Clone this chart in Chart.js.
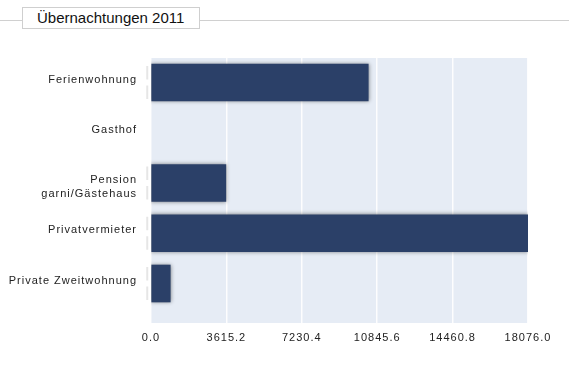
<!DOCTYPE html>
<html lang="de">
<head>
  <meta charset="UTF-8">
  <title>Übernachtungen 2011</title>
  <script src="https://cdn.jsdelivr.net/npm/chart.js"></script>
  <style>
    body { margin: 0; background: #fff; font-family: "Liberation Sans", Arial, sans-serif; }
    .wrap { position: relative; width: 569px; height: 385px; }
    .rule { position: absolute; left: 0; right: 0; top: 20px; border-top: 1px solid #d0d0d0; }
    .title {
      position: absolute; left: 22px; top: 7px; width: 162px; height: 20px;
      border: 1px solid #cfcfcf; background: #fff;
      font-size: 15px; line-height: 20px; color: #111; padding-left: 14px;
    }
    #chart { position: absolute; left: 0; top: 0; }
  </style>
</head>
<body>
  <div class="wrap">
    <div class="rule"></div>
    <canvas id="chart" width="569" height="385"></canvas>
    <div class="title">Übernachtungen 2011</div>
  </div>

  <script>
    // categories and values
    // (empty first line pushes the two-line label down like in the original)
    const categories = ['Ferienwohnung', 'Gasthof', ['', 'Pension', 'garni/Gästehaus'], 'Privatvermieter', 'Private Zweitwohnung'];
    const values = [10417, 0, 3590, 18076, 924];
    const xTicks = [0, 3615.2, 7230.4, 10845.6, 14460.8, 18076];

    // y range chosen so the categories sit where they do in the original
    const yMin = -0.4876, yMax = 4.786;

    // plot background, bar shadow, letter spacing for the tick labels
    const plotBg = {
      id: 'plotBg',
      beforeLayout(chart) { chart.ctx.letterSpacing = '1px'; },
      beforeDraw(chart) {
        const { ctx, chartArea: a } = chart;
        ctx.letterSpacing = '1px';
        ctx.save();
        ctx.fillStyle = '#e6ecf5';
        ctx.fillRect(a.left, a.top, a.right - a.left, a.bottom - a.top);
        ctx.restore();
      },
      beforeDatasetsDraw(chart) {
        const ctx = chart.ctx;
        ctx.save();
        ctx.shadowColor = 'rgba(0,0,0,0.45)';
        ctx.shadowBlur = 4;
      },
      afterDatasetsDraw(chart) {
        const ctx = chart.ctx;
        ctx.restore();
        // faint grey marks left of every bar
        ctx.save();
        ctx.strokeStyle = '#e6e6e6';
        ctx.lineWidth = 2;
        chart.getDatasetMeta(0).data.forEach(bar => {
          if (Math.abs(bar.x - bar.base) < 1) return;
          const top = bar.y - bar.height / 2, bot = bar.y + bar.height / 2;
          const x = bar.base - 4.5;
          ctx.beginPath();
          ctx.moveTo(x, top + 2); ctx.lineTo(x, bar.y - 3);
          ctx.moveTo(x, bar.y + 3); ctx.lineTo(x, bot - 2);
          ctx.stroke();
        });
        ctx.restore();
      }
    };

    new Chart(document.getElementById('chart'), {
      type: 'bar',
      data: {
        datasets: [{
          data: values.map((v, i) => ({ x: v, y: i })),
          backgroundColor: c => (c.raw && c.raw.x === 0) ? 'rgba(0,0,0,0)' : '#2b4068',
          borderWidth: 0,
          barThickness: 37
        }]
      },
      options: {
        indexAxis: 'y',
        responsive: false,
        animation: false,
        layout: { padding: { left: 0, right: 41, top: 58, bottom: 0 } },
        plugins: { legend: { display: false }, tooltip: { enabled: false } },
        scales: {
          x: {
            type: 'linear',
            min: 0,
            max: 18076,
            bounds: 'data',
            afterBuildTicks: s => {
              s.ticks = xTicks.map(v => ({ value: v }));
              s.min = 0; s.max = 18076;
            },
            afterFit: s => { s.height = 62; },
            border: { display: false },
            grid: { color: 'rgba(255,255,255,0.9)', lineWidth: 1.5, drawTicks: false },
            ticks: {
              padding: 8,
              color: '#222',
              font: { family: 'Liberation Sans', size: 11 },
              callback: v => v.toFixed(1)
            }
          },
          y: {
            type: 'linear',
            reverse: true,
            offset: false,
            min: yMin,
            max: yMax,
            bounds: 'data',
            afterBuildTicks: s => {
              s.ticks = categories.map((c, i) => ({ value: i }));
              s.min = yMin; s.max = yMax;
            },
            afterFit: s => { s.width = 151; },
            border: { display: false },
            grid: { display: false, drawTicks: false, offset: false },
            ticks: {
              padding: 14,
              labelOffset: -3,
              color: '#222',
              font: { family: 'Liberation Sans', size: 11, lineHeight: 1.3 },
              callback: v => categories[v]
            }
          }
        }
      },
      plugins: [plotBg]
    });
  </script>
</body>
</html>
